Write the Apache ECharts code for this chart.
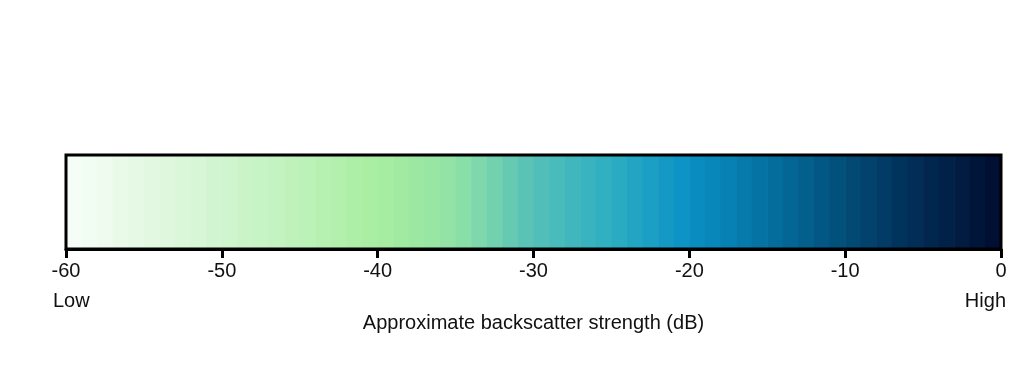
<!DOCTYPE html>
<html>
<head>
<meta charset="utf-8">
<script src="https://cdn.jsdelivr.net/npm/echarts@6/dist/echarts.min.js"></script>
<style>html,body{margin:0;padding:0;background:#fff;}#c{width:1021px;height:377px;}</style>
</head>
<body>
<div id="c"></div>
<script>
// Bin edges in dB (1 dB bins from -60 to 0)
const binStarts = [-60,-59,-58,-57,-56,-55,-54,-53,-52,-51,-50,-49,-48,-47,-46,-45,-44,-43,-42,-41,-40,-39,-38,-37,-36,-35,-34,-33,-32,-31,-30,-29,-28,-27,-26,-25,-24,-23,-22,-21,-20,-19,-18,-17,-16,-15,-14,-13,-12,-11,-10,-9,-8,-7,-6,-5,-4,-3,-2,-1];
// Colour scale at -60, -55, ..., 0
const colorStops = ['#f7fdf8','#e4f8e3','#d0f5cf','#bdf2b9','#a8eea0','#8fe2a6','#55c0b8','#2caec2','#0a90c5','#0471a0','#024c78','#012a52','#000c30'];
const tickValues = [-60,-50,-40,-30,-20,-10,0];
const axisTitle = 'Approximate backscatter strength (dB)';
const lowLabel = 'Low';
const highLabel = 'High';

const data = binStarts.map(s => [s, s + 1, s + 0.5]);

const chart = echarts.init(document.getElementById('c'), null, {renderer: 'canvas'});
const font = 'Liberation Sans, Arial, sans-serif';
chart.setOption({
  animation: false,
  backgroundColor: '#fff',
  grid: {left: 66, right: 20, top: 155, bottom: 128, show: true, borderColor: '#000', borderWidth: 3, backgroundColor: 'transparent', z: 10},
  xAxis: {
    type: 'value', min: -60, max: 0, interval: 10,
    axisLine: {show: true, lineStyle: {color: '#000', width: 3}},
    axisTick: {show: true, length: 9, inside: false, lineStyle: {color: '#000', width: 3}},
    axisLabel: {color: '#111', fontSize: 20, fontFamily: font, margin: 12},
    splitLine: {show: false},
    name: axisTitle, nameLocation: 'middle', nameGap: 64,
    nameTextStyle: {color: '#111', fontSize: 20, fontFamily: font}
  },
  yAxis: {type: 'value', min: 0, max: 1, show: false},
  visualMap: {show: false, type: 'continuous', min: -60, max: 0, dimension: 2, seriesIndex: 0, inRange: {color: colorStops}},
  graphic: [
    {type: 'text', left: 53, top: 291, style: {text: lowLabel, fill: '#111', font: '20px ' + font}},
    {type: 'text', right: 15, top: 291, style: {text: highLabel, fill: '#111', font: '20px ' + font}}
  ],
  series: [{
    type: 'custom',
    data: data,
    encode: {x: [0, 1]},
    renderItem: function (params, api) {
      const p0 = api.coord([api.value(0), 1]);
      const p1 = api.coord([api.value(1), 0]);
      return {
        type: 'rect',
        shape: {x: p0[0], y: p0[1], width: p1[0] - p0[0] + 0.6, height: p1[1] - p0[1]},
        style: {fill: api.visual('color')}
      };
    }
  }]
});
</script>
</body>
</html>
